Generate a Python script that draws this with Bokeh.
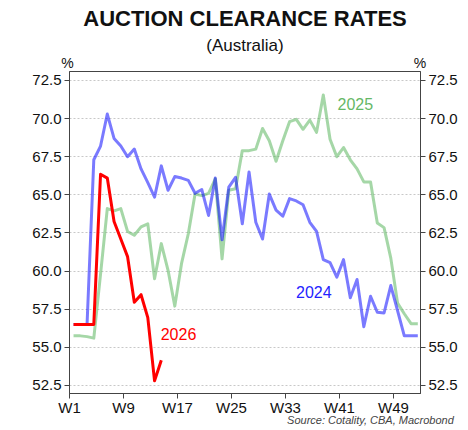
from bokeh.plotting import figure
from bokeh.models import Range1d, LinearAxis, FixedTicker, Label, PrintfTickFormatter
from bokeh.embed import file_html
from bokeh.resources import INLINE

# ---------------- data ----------------
weeks = list(range(1, 53))
rate_2024 = [56.5, 56.5, 56.5, 67.3, 68.2, 70.3, 68.7, 68.2, 67.5, 68.0,
             66.7, 65.8, 64.85, 66.9, 65.3, 66.2, 66.1, 65.95, 65.1, 65.35,
             63.65, 66.1, 62.05, 65.5, 66.15, 63.1, 66.5, 63.2, 62.1, 65.05,
             64.0, 63.6, 64.75, 64.6, 64.35, 63.2, 62.6, 60.75, 60.55, 59.6,
             60.75, 58.25, 59.45, 56.35, 58.35, 57.3, 57.25, 59.05, 57.4, 55.75,
             55.75, 55.75]
rate_2025 = [55.75, 55.75, 55.7, 55.6, 59.8, 64.1, 63.95, 64.1, 62.6, 62.35,
             62.9, 63.1, 59.5, 61.8, 60.05, 57.7, 60.5, 62.45, 65.05, 64.95,
             65.1, 66.05, 60.8, 65.3, 65.4, 67.9, 67.9, 68.0, 69.35, 68.55,
             67.2, 68.55, 69.8, 69.95, 69.3, 69.9, 69.1, 71.55, 68.65, 67.5,
             68.1, 67.3, 66.7, 65.85, 65.85, 63.15, 62.85, 60.85, 57.9, 57.2,
             56.55, 56.55]
weeks_2026 = list(range(1, 15))
rate_2026 = [56.5, 56.5, 56.5, 56.5, 66.35, 66.1, 63.25, 62.1, 60.95, 57.95,
             58.45, 56.95, 52.8, 54.15]

tick_weeks = [1, 9, 17, 25, 33, 41, 49]
tick_labels = ["W1", "W9", "W17", "W25", "W33", "W41", "W49"]
y_ticks = [52.5, 55.0, 57.5, 60.0, 62.5, 65.0, 67.5, 70.0, 72.5]

title_text = "AUCTION CLEARANCE RATES"
subtitle_text = "(Australia)"
source_text = "Source: Cotality, CBA, Macrobond"
series_names = ["2024", "2025", "2026"]

# ---------------- style ----------------
FONT = "Liberation Sans"
SHIFT = 0.6          # weekly observations sit slightly right of the week tick
X_START, X_END = 1.0, 53.0
Y_START, Y_END = 51.97, 73.09
AX = "#444444"

p = figure(width=468, height=430, output_backend="svg", toolbar_location=None,
           x_range=Range1d(X_START, X_END), y_range=Range1d(Y_START, Y_END),
           min_border_left=69, min_border_right=48, min_border_top=71,
           min_border_bottom=37)
p.background_fill_color = "white"
p.border_fill_color = "white"
p.outline_line_color = AX
p.outline_line_width = 1

p.xgrid.visible = False
p.ygrid.ticker = FixedTicker(ticks=y_ticks)
p.ygrid.grid_line_color = "#c8c8c8"
p.ygrid.grid_line_dash = "2 2"
p.ygrid.grid_line_width = 1

# bottom axis
xa = p.xaxis[0]
xa.ticker = FixedTicker(ticks=tick_weeks)
xa.major_label_overrides = {w: t for w, t in zip(tick_weeks, tick_labels)}
xa.minor_tick_line_color = None
xa.major_tick_in = 0
xa.major_tick_out = 5
xa.axis_line_color = AX
xa.major_tick_line_color = AX
xa.major_label_text_font = FONT
xa.major_label_text_font_size = "15px"
xa.major_label_text_color = "#111111"
xa.major_label_standoff = 0

# left and right axes
ya = p.yaxis[0]
right = LinearAxis()
p.add_layout(right, "right")
for ax in (ya, right):
    ax.ticker = FixedTicker(ticks=y_ticks)
    ax.formatter = PrintfTickFormatter(format="%.1f")
    ax.minor_tick_line_color = None
    ax.major_tick_in = 0
    ax.major_tick_out = 5
    ax.axis_line_color = AX
    ax.major_tick_line_color = AX
    ax.major_label_text_font = FONT
    ax.major_label_text_font_size = "15px"
    ax.major_label_text_color = "#111111"
    ax.major_label_standoff = 3

# ---------------- lines ----------------
x_all = [w + SHIFT for w in weeks]
x2026 = [w + SHIFT for w in weeks_2026]
p.line(x_all, rate_2025, line_color="#4caf50", line_alpha=0.5, line_width=3, line_join="round")
p.line(x_all, rate_2024, line_color="#0000ff", line_alpha=0.52, line_width=3, line_join="round")
p.line(x2026, rate_2026, line_color="#ff0000", line_width=3, line_join="round")


def lbl(x, y, text, size, color, align="center", baseline="middle", xo=0, yo=0,
        style="normal", place=None):
    l = Label(x=x, y=y, text=text, text_font=FONT, text_font_size=size,
              text_color=color, text_align=align, text_baseline=baseline,
              x_offset=xo, y_offset=yo, text_font_style=style)
    if place is None:
        p.add_layout(l)
    else:
        p.add_layout(l, place)


# series labels (inside the frame)
lbl(37.2, 58.65, series_names[0], "16px", "#2323ff")
lbl(43.35, 70.95, series_names[1], "16px", "#66b866")
lbl(17.15, 55.85, series_names[2], "16px", "#ff0000")

# texts outside the frame live in side panels so they are not clipped
mid = (X_START + X_END) / 2
lbl(mid, Y_END, title_text, "22px", "#111111", yo=53, style="bold", place="above")
lbl(mid, Y_END, subtitle_text, "17px", "#111111", yo=26.5, place="above")
lbl(X_END, Y_START, source_text, "11px", "#444444", align="right", baseline="middle",
    xo=33.3, yo=-26, style="italic", place="above")
lbl(X_START, Y_END, "%", "14px", "#111111", baseline="bottom", xo=-2, yo=1, place="left")
lbl(X_END, Y_END, "%", "14px", "#111111", baseline="bottom", xo=-0.5, yo=1, place="left")

open("out.html", "w").write(file_html(p, INLINE))
